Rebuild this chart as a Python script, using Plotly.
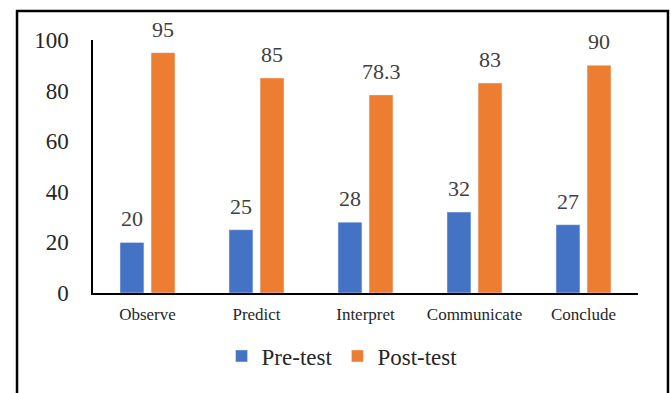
import plotly.graph_objects as go

categories = ["Observe", "Predict", "Interpret", "Communicate", "Conclude"]
pre_test = [20, 25, 28, 32, 27]
post_test = [95, 85, 78.3, 83, 90]
y_ticks = [0, 20, 40, 60, 80, 100]

BLUE = "#4472C4"
ORANGE = "#ED7D31"
FONT = "Liberation Serif"

fig = go.Figure()
fig.add_trace(go.Bar(name="Pre-test", x=categories, y=pre_test, marker_color=BLUE))
fig.add_trace(go.Bar(name="Post-test", x=categories, y=post_test, marker_color=ORANGE))

# value labels above each bar (group slots are offset by half a slot width)
slot_px = 15.5
for vals, shift in ((pre_test, -slot_px), (post_test, slot_px)):
    for cat, v in zip(categories, vals):
        fig.add_annotation(
            x=cat, y=v, text=f"{v:g}", showarrow=False,
            xshift=shift, yshift=9, yanchor="bottom",
            font=dict(family=FONT, size=22, color="#404040"),
        )

# outer chart frame
fig.add_shape(
    type="rect", xref="paper", yref="paper",
    x0=-0.1394, x1=1.055, y0=-0.45, y1=1.1146,
    line=dict(color="black", width=2.5), fillcolor="rgba(0,0,0,0)",
)

fig.update_layout(
    width=671, height=393,
    margin=dict(l=93, r=33, t=40, b=100),
    paper_bgcolor="white", plot_bgcolor="white",
    barmode="group", bargap=0.43, bargroupgap=0.23,
    showlegend=True,
    legend=dict(
        orientation="h", x=0.457, xanchor="center", y=-0.249, yanchor="middle",
        font=dict(family=FONT, size=23, color="#262626"),
        bgcolor="rgba(0,0,0,0)",
    ),
    xaxis=dict(
        showline=True, linecolor="black", linewidth=1.5,
        ticks="", showgrid=False,
        tickfont=dict(family=FONT, size=17, color="#262626"),
        ticklabelstandoff=5,
    ),
    yaxis=dict(
        range=[0, 100], tickvals=y_ticks,
        showline=True, linecolor="black", linewidth=1.5,
        ticks="", showgrid=False, zeroline=False,
        tickfont=dict(family=FONT, size=23, color="#262626"),
        ticklabelstandoff=18,
    ),
)

fig.write_html("out.html")
